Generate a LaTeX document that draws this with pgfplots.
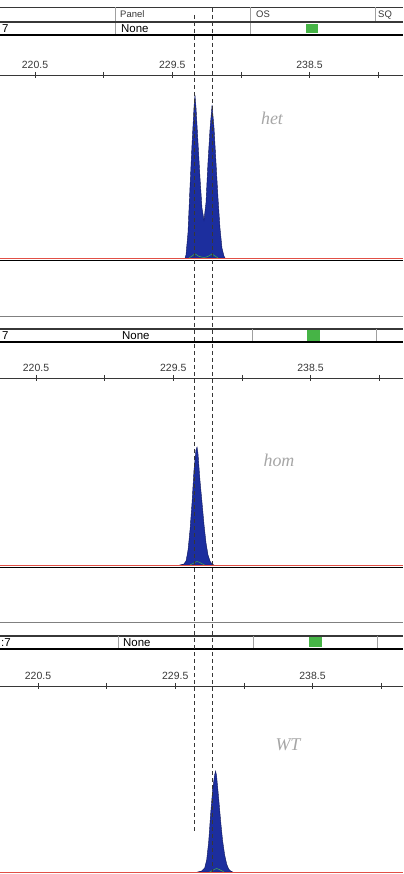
\documentclass[border=0pt]{standalone}
\usepackage{fontspec}
\setmainfont{Liberation Sans}
\newfontfamily\hand{Liberation Serif}
\usepackage{pgfplots}
\pgfplotsset{compat=1.18}
\definecolor{peak}{RGB}{28,46,158}
\definecolor{peakedge}{RGB}{14,22,90}
\definecolor{okgreen}{RGB}{70,180,70}
\definecolor{ln}{RGB}{55,55,55}
\definecolor{lgray}{RGB}{160,160,160}
\definecolor{basered}{RGB}{225,80,70}
\pgfplotsset{trace/.style={scale only axis, width=403bp,
  axis x line*=top, axis y line=none, ymin=-3,
  xtick={220.5,229.5,238.5}, xticklabels={220.5,229.5,238.5},
  minor xtick={225,234,243}, tick align=center,
  major tick length=6bp, minor tick length=6bp,
  every tick/.style={ln, line width=0.6bp},
  axis line style={ln, line width=0.7bp},
  x tick label style={font=\fontsize{10.5}{11}\selectfont, text=ln},
  /pgf/number format/assume math mode=true, clip=false}}
\begin{document}
\begin{tikzpicture}[x=1bp,y=1bp]
\useasboundingbox (0,0) rectangle (403,874);
% ---------- panel 1 header
\draw[ln, line width=0.8bp] (0,867) -- (403,867);
\draw[lgray, line width=0.6bp] (115,867) -- (115,839) (250,867) -- (250,839) (375,867) -- (375,851);
\node[anchor=base west, inner sep=0, font=\fontsize{9.5}{10}\selectfont, text=ln] at (120,856.5) {Panel};
\node[anchor=base west, inner sep=0, font=\fontsize{9.5}{10}\selectfont, text=ln] at (256,856.5) {OS};
\node[anchor=base west, inner sep=0, font=\fontsize{9.5}{10}\selectfont, text=ln] at (378,856.5) {SQ};
\draw[ln, line width=1.3bp] (0,852) -- (403,852);
\node[anchor=base west, inner sep=0, font=\fontsize{11.5}{12}\selectfont] at (2,841) {7};
\node[anchor=base west, inner sep=0, font=\fontsize{11.5}{12}\selectfont] at (121,841) {None};
\fill[okgreen] (306,841) rectangle (318,850);
\draw[black, line width=1.3bp] (0,839) -- (403,839);
% ---------- panel 2 header
\draw[lgray!80!black, line width=1bp] (0,557) -- (403,557);
\draw[ln, line width=1.3bp] (0,545) -- (403,545);
\draw[lgray, line width=0.6bp] (252,545) -- (252,532) (376,545) -- (376,532);
\node[anchor=base west, inner sep=0, font=\fontsize{11.5}{12}\selectfont] at (2,534) {7};
\node[anchor=base west, inner sep=0, font=\fontsize{11.5}{12}\selectfont] at (122,534) {None};
\fill[okgreen] (307,533) rectangle (320,544);
\draw[black, line width=1.3bp] (0,532) -- (403,532);
% ---------- panel 3 header
\draw[lgray!80!black, line width=1bp] (0,251) -- (403,251);
\draw[ln, line width=1.2bp] (0,238) -- (403,238);
\draw[lgray, line width=0.6bp] (118,238) -- (118,225) (253,238) -- (253,225) (377,238) -- (377,225);
\node[anchor=base west, inner sep=0, font=\fontsize{11.5}{12}\selectfont] at (1,227) {:7};
\node[anchor=base west, inner sep=0, font=\fontsize{11.5}{12}\selectfont] at (123,227) {None};
\fill[okgreen] (309,227) rectangle (322,237);
\draw[black, line width=1.3bp] (0,225) -- (403,225);
% ---------- panel 1: het
\begin{axis}[trace, at={(0,613)}, anchor=south west, height=186bp, ymax=183,
  xmin=218.205, xmax=244.631]
\addplot[fill=peak, draw=peakedge, line width=0.4bp] coordinates {
 (230.34,0)(230.40,3)(230.53,25)(230.66,70)(230.80,115)(230.93,152)(230.99,163)
 (231.06,150)(231.19,115)(231.32,80)(231.45,50)(231.58,38)(231.71,55)(231.84,95)
 (231.98,130)(232.11,153)(232.24,130)(232.37,95)(232.50,60)(232.63,30)(232.76,10)
 (232.89,2)(232.96,0)} \closedcycle;
\addplot[okgreen, line width=0.5bp, smooth] coordinates {
 (230.6,0)(230.8,2)(231.0,4)(231.2,2)(231.4,1)(231.58,0.5)(231.75,1)(231.95,2.5)(232.1,4)(232.3,2)(232.5,0)};
\addplot[basered, line width=0.8bp] coordinates {(218.205,0)(244.631,0)};
\addplot[black, line width=0.8bp] coordinates {(218.205,-2.3)(244.631,-2.3)};
\end{axis}
% ---------- panel 2: hom
\begin{axis}[trace, at={(0,306)}, anchor=south west, height=190bp, ymax=187,
  xmin=218.14, xmax=244.566]
\addplot[fill=peak, draw=peakedge, line width=0.4bp] coordinates {
 (229.94,0)(230.20,1)(230.34,4)(230.47,15)(230.60,35)(230.73,62)(230.86,95)(230.99,115)
 (231.06,118)(231.12,112)(231.25,85)(231.39,62)(231.52,40)(231.65,22)(231.78,10)
 (231.91,4)(232.04,1)(232.17,0)} \closedcycle;
\addplot[okgreen, line width=0.5bp, smooth] coordinates {
 (230.6,0)(230.85,2)(231.05,3.5)(231.3,2)(231.55,0)};
\addplot[basered, line width=0.8bp] coordinates {(218.14,0)(244.566,0)};
\addplot[black, line width=0.6bp] coordinates {(218.14,-2.3)(244.566,-2.3)};
\end{axis}
% ---------- panel 3: WT
\begin{axis}[trace, at={(0,0)}, anchor=south west, height=188bp, ymin=-2, ymax=186,
  xmin=218.008, xmax=244.434]
\addplot[fill=peak, draw=peakedge, line width=0.4bp] coordinates {
 (230.97,0)(231.23,1)(231.43,4)(231.56,12)(231.69,30)(231.82,58)(231.95,82)(232.08,97)
 (232.15,101)(232.21,96)(232.34,75)(232.47,52)(232.60,32)(232.74,17)(232.87,8)
 (233.00,3)(233.13,1)(233.26,0)} \closedcycle;
\addplot[okgreen, line width=0.5bp, smooth] coordinates {
 (231.75,0)(232.0,2)(232.2,3.5)(232.45,2)(232.7,0)};
\addplot[basered, line width=0.8bp] coordinates {(218.008,0)(244.434,0)};
\end{axis}
% ---------- dashed guides
\draw[ln, line width=0.8bp, dash pattern=on 4bp off 3bp] (194,859) -- (194,41);
\draw[ln, line width=0.8bp, dash pattern=on 4bp off 3bp] (212,866) -- (212,2);
% ---------- handwritten genotypes
\node[font=\hand\itshape\fontsize{18}{19}\selectfont, text=gray!70] at (272,756) {het};
\node[font=\hand\itshape\fontsize{18}{19}\selectfont, text=gray!70] at (279,414) {hom};
\node[font=\hand\itshape\fontsize{18}{19}\selectfont, text=gray!70] at (288,129) {WT};
\end{tikzpicture}
\end{document}
